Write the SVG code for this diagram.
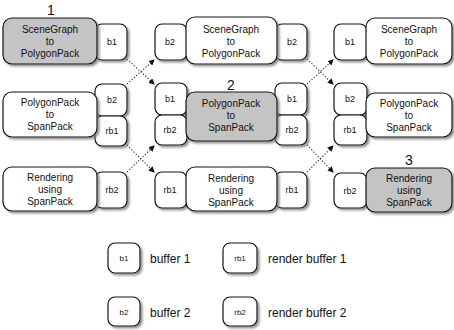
<svg xmlns="http://www.w3.org/2000/svg" width="454" height="330" viewBox="0 0 454 330">
<defs>
<filter id="sh" x="-10%" y="-10%" width="130%" height="130%">
<feDropShadow dx="2" dy="2" stdDeviation="1" flood-color="#777" flood-opacity="0.8"/>
</filter>
<marker id="ah" markerWidth="6" markerHeight="6" refX="5" refY="3" orient="auto" markerUnits="userSpaceOnUse">
<path d="M0,0 L6,3 L0,6 z" fill="#111"/>
</marker>
<style>
.m{fill:#fff;stroke:#111;stroke-width:1.2;filter:url(#sh)}
.g{fill:#c4c4c4}
.b{fill:#fff;stroke:#111;stroke-width:1.2;filter:url(#sh)}
text{font-family:"Liberation Sans",Arial,sans-serif;fill:#111}
.t{font-size:10px;text-anchor:middle}
.bt{font-size:9px;text-anchor:middle}
.lt{font-size:8px;text-anchor:middle}
.lg{font-size:12px}
.num{font-size:14px;text-anchor:middle}
.c{fill:none;stroke:#333;stroke-width:1.1;stroke-dasharray:1.3 1.8;marker-end:url(#ah)}
</style>
</defs>

<g id="connectors">
<line class="c" x1="127" y1="59" x2="154" y2="84"/>
<line class="c" x1="127" y1="84" x2="154" y2="60"/>
<line class="c" x1="127" y1="145" x2="154" y2="172"/>
<line class="c" x1="127" y1="172" x2="154" y2="146"/>
<line class="c" x1="307" y1="59" x2="333" y2="84"/>
<line class="c" x1="307" y1="84" x2="333" y2="60"/>
<line class="c" x1="307" y1="145" x2="333" y2="172"/>
<line class="c" x1="307" y1="172" x2="333" y2="146"/>
</g>

<!-- Column 1 -->
<g id="c1r1-b1"><rect class="b" x="95" y="24" width="32" height="36" rx="7"/><text class="bt" x="112" y="45">b1</text></g>
<g id="c1r1"><rect class="m g" x="3" y="18" width="94" height="46" rx="9"/>
<text class="t" x="50" y="33">SceneGraph</text><text class="t" x="50" y="45">to</text><text class="t" x="50" y="57">PolygonPack</text></g>
<text class="num" x="51" y="15">1</text>

<g id="c1r2-b2"><rect class="b" x="95" y="84" width="32" height="32" rx="7"/><text class="bt" x="112" y="103">b2</text></g>
<g id="c1r2-rb1"><rect class="b" x="95" y="116" width="32" height="30" rx="7"/><text class="bt" x="112" y="134">rb1</text></g>
<g id="c1r2"><rect class="m" x="3" y="92" width="94" height="45" rx="9"/>
<text class="t" x="50" y="106">PolygonPack</text><text class="t" x="50" y="118">to</text><text class="t" x="50" y="130">SpanPack</text></g>

<g id="c1r3-rb2"><rect class="b" x="95" y="172" width="32" height="36" rx="7"/><text class="bt" x="112" y="193">rb2</text></g>
<g id="c1r3"><rect class="m" x="3" y="167" width="94" height="44" rx="9"/>
<text class="t" x="50" y="181">Rendering</text><text class="t" x="50" y="193">using</text><text class="t" x="50" y="205">SpanPack</text></g>

<!-- Column 2 -->
<g id="c2r1-b2l"><rect class="b" x="155" y="24" width="32" height="36" rx="7"/><text class="bt" x="170" y="45">b2</text></g>
<g id="c2r1-b2r"><rect class="b" x="275" y="24" width="32" height="36" rx="7"/><text class="bt" x="292" y="45">b2</text></g>
<g id="c2r1"><rect class="m" x="186" y="17" width="91" height="47" rx="9"/>
<text class="t" x="231" y="33">SceneGraph</text><text class="t" x="231" y="45">to</text><text class="t" x="231" y="57">PolygonPack</text></g>

<g id="c2r2-b1l"><rect class="b" x="155" y="83" width="32" height="32" rx="7"/><text class="bt" x="170" y="102">b1</text></g>
<g id="c2r2-rb2l"><rect class="b" x="155" y="115" width="32" height="30" rx="7"/><text class="bt" x="170" y="133">rb2</text></g>
<g id="c2r2-b1r"><rect class="b" x="275" y="83" width="32" height="32" rx="7"/><text class="bt" x="292" y="102">b1</text></g>
<g id="c2r2-rb2r"><rect class="b" x="275" y="115" width="32" height="30" rx="7"/><text class="bt" x="292" y="133">rb2</text></g>
<g id="c2r2"><rect class="m g" x="186" y="92" width="91" height="49" rx="9"/>
<text class="t" x="231" y="107">PolygonPack</text><text class="t" x="231" y="119">to</text><text class="t" x="231" y="131">SpanPack</text></g>
<text class="num" x="231" y="90">2</text>

<g id="c2r3-rb1l"><rect class="b" x="155" y="172" width="32" height="36" rx="7"/><text class="bt" x="170" y="193">rb1</text></g>
<g id="c2r3-rb1r"><rect class="b" x="275" y="172" width="32" height="36" rx="7"/><text class="bt" x="292" y="193">rb1</text></g>
<g id="c2r3"><rect class="m" x="186" y="167" width="91" height="44" rx="9"/>
<text class="t" x="231" y="182">Rendering</text><text class="t" x="231" y="194">using</text><text class="t" x="231" y="206">SpanPack</text></g>

<!-- Column 3 -->
<g id="c3r1-b1"><rect class="b" x="334" y="24" width="33" height="36" rx="7"/><text class="bt" x="350" y="45">b1</text></g>
<g id="c3r1"><rect class="m" x="366" y="18" width="86" height="46" rx="9"/>
<text class="t" x="409" y="33">SceneGraph</text><text class="t" x="409" y="45">to</text><text class="t" x="409" y="57">PolygonPack</text></g>

<g id="c3r2-b2"><rect class="b" x="334" y="83" width="33" height="32" rx="7"/><text class="bt" x="350" y="102">b2</text></g>
<g id="c3r2-rb1"><rect class="b" x="334" y="115" width="33" height="30" rx="7"/><text class="bt" x="350" y="133">rb1</text></g>
<g id="c3r2"><rect class="m" x="366" y="93" width="86" height="44" rx="9"/>
<text class="t" x="409" y="107">PolygonPack</text><text class="t" x="409" y="119">to</text><text class="t" x="409" y="131">SpanPack</text></g>

<g id="c3r3-rb2"><rect class="b" x="334" y="173" width="33" height="35" rx="7"/><text class="bt" x="350" y="194">rb2</text></g>
<g id="c3r3"><rect class="m g" x="366" y="168" width="86" height="44" rx="9"/>
<text class="t" x="409" y="182">Rendering</text><text class="t" x="409" y="194">using</text><text class="t" x="409" y="206">SpanPack</text></g>
<text class="num" x="409" y="165">3</text>

<!-- Legend -->
<g id="legend-b1"><rect class="b" x="108" y="243" width="32" height="30" rx="7"/><text class="lt" x="124" y="261">b1</text></g>
<text class="lg" x="150" y="263">buffer 1</text>
<g id="legend-rb1"><rect class="b" x="223" y="243" width="34" height="30" rx="7"/><text class="lt" x="240" y="261">rb1</text></g>
<text class="lg" x="268" y="263">render buffer 1</text>
<g id="legend-b2"><rect class="b" x="108" y="297" width="32" height="29" rx="7"/><text class="lt" x="124" y="315">b2</text></g>
<text class="lg" x="150" y="317">buffer 2</text>
<g id="legend-rb2"><rect class="b" x="223" y="297" width="34" height="29" rx="7"/><text class="lt" x="240" y="315">rb2</text></g>
<text class="lg" x="268" y="317">render buffer 2</text>
</svg>
